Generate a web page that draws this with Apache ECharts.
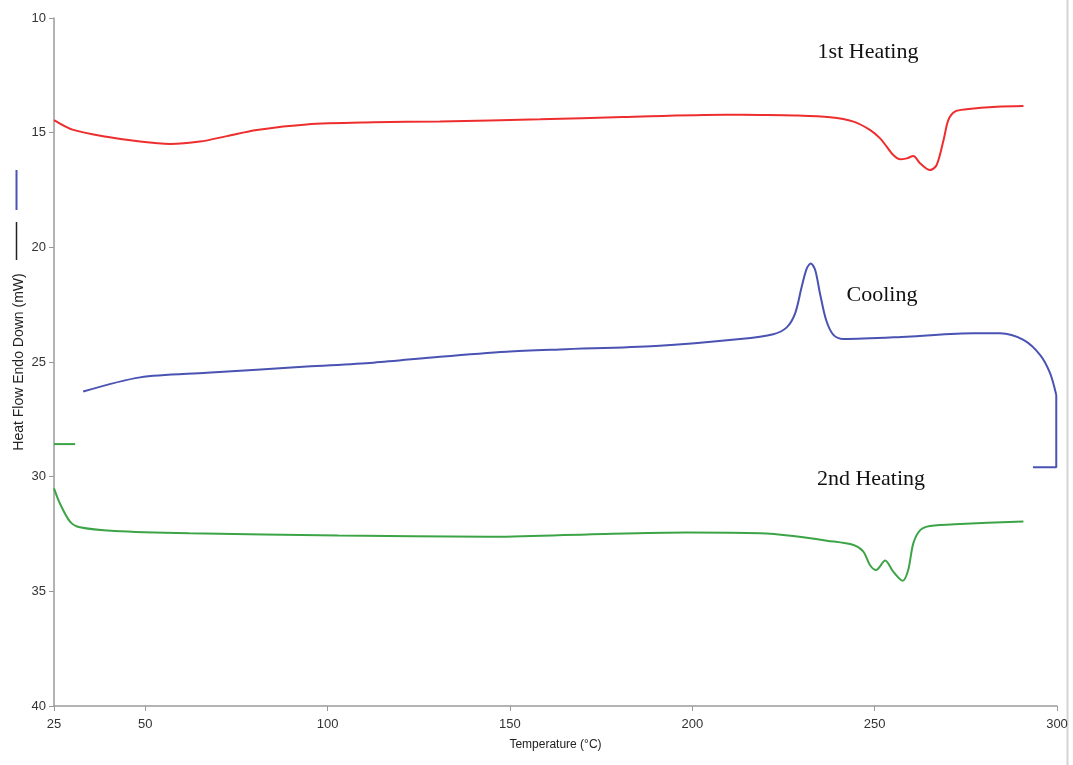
<!DOCTYPE html>
<html>
<head>
<meta charset="utf-8">
<script src="https://cdn.jsdelivr.net/npm/echarts@6/dist/echarts.min.js"></script>
<style>
  html, body { margin: 0; padding: 0; background: #fff; }
  #chart { width: 1073px; height: 765px; }
</style>
</head>
<body>
<div id="chart"></div>
<script>
// x tick labels
const xTicks = [25, 50, 100, 150, 200, 250, 300];

// 1st heating (red)
const heat1Temp = [25, 30.3, 39.4, 48.6, 56.8, 65, 72.4, 80.6, 94.3, 112.6, 130.8, 158.3, 181, 209, 218.6, 228, 237.8, 244.2, 248.7, 251.5, 253.3, 255.1, 257, 258.8, 260.6, 262.5, 265.2, 267, 268.9, 270.2, 272, 275.2, 283.5, 290.8];
const heat1Flow = [14.45, 14.88, 15.18, 15.39, 15.49, 15.39, 15.15, 14.88, 14.64, 14.55, 14.51, 14.42, 14.32, 14.22, 14.23, 14.25, 14.33, 14.52, 14.88, 15.25, 15.61, 15.97, 16.16, 16.12, 16.02, 16.34, 16.63, 16.41, 15.32, 14.45, 14.08, 13.98, 13.87, 13.84];

// cooling (blue)
const coolTemp = [33.0, 48.6, 66.9, 94.3, 112.6, 130.8, 149.1, 163.7, 190, 213.1, 222.2, 225.9, 228.2, 230, 231.4, 232.5, 233.7, 235, 236.7, 238.7, 241.4, 258.8, 277.1, 284.4, 290.8, 295.4, 298.1, 299.8];
const coolFlow = [26.29, 25.67, 25.47, 25.20, 25.03, 24.77, 24.55, 24.45, 24.3, 24.0, 23.79, 23.49, 22.88, 21.72, 20.92, 20.70, 20.99, 22.0, 23.17, 23.82, 24.0, 23.90, 23.75, 23.75, 24.04, 24.70, 25.49, 26.44];
const coolEndTemp = [299.8, 299.8, 293.4];
const coolEndFlow = [26.44, 29.59, 29.59];

// 2nd heating (green)
const heat2Temp = [25, 26.6, 29.4, 32.1, 41.6, 62.1, 103, 143.9, 171.2, 198.5, 218.6, 227.7, 236.9, 244.2, 246.9, 248.7, 250.4, 252.9, 255.1, 257.7, 259.2, 260.6, 262.5, 265.2, 273.4, 290.8];
const heat2Flow = [30.51, 31.16, 31.96, 32.21, 32.37, 32.47, 32.57, 32.62, 32.52, 32.44, 32.47, 32.59, 32.79, 32.98, 33.27, 33.85, 34.07, 33.66, 34.14, 34.54, 34.07, 32.91, 32.33, 32.15, 32.06, 31.96];
const heat2StartTemp = [25, 30.8];
const heat2StartFlow = [28.58, 28.58];

const RED = "#ee2e2e";
const BLUE = "#4a52b2";
const GREEN = "#3ca447";

const zip = (a, b) => a.map((v, i) => [v, b[i]]);

const chart = echarts.init(document.getElementById("chart"));

const lineSeries = (data, color, smooth) => ({
  type: "line",
  data: data,
  showSymbol: false,
  smooth: smooth,
  lineStyle: { color: color, width: 2 },
  itemStyle: { color: color },
  silent: true,
  z: 3
});

chart.setOption({
  animation: false,
  backgroundColor: "#fff",
  grid: { left: 54, right: 16, top: 18, bottom: 59, outerBoundsMode: "none" },
  xAxis: {
    type: "value",
    min: 25,
    max: 300,
    name: "Temperature (°C)",
    nameLocation: "middle",
    nameGap: 33,
    nameTextStyle: { color: "#222", fontSize: 12, fontFamily: "Liberation Sans" },
    axisLine: { lineStyle: { color: "#9a9a9a", width: 1.5 } },
    axisTick: { customValues: xTicks, length: 5, lineStyle: { color: "#9a9a9a" } },
    axisLabel: {
      customValues: xTicks,
      color: "#333",
      fontSize: 13,
      fontFamily: "Liberation Sans",
      margin: 12
    },
    splitLine: { show: false }
  },
  yAxis: {
    type: "value",
    inverse: true,
    min: 10,
    max: 40,
    interval: 5,
    axisLine: { show: true, lineStyle: { color: "#9a9a9a", width: 1.5 } },
    axisTick: { show: true, length: 5, lineStyle: { color: "#9a9a9a" } },
    axisLabel: { color: "#333", fontSize: 13, fontFamily: "Liberation Sans", margin: 8 },
    splitLine: { show: false }
  },
  graphic: [
    {
      type: "text", x: 19, y: 362, rotation: Math.PI / 2,
      style: { text: "Heat Flow Endo Down (mW)", font: "14px 'Liberation Sans'", fill: "#222", align: "center", verticalAlign: "middle" }
    },
    { type: "line", shape: { x1: 16.5, y1: 170, x2: 16.5, y2: 210 }, style: { stroke: BLUE, lineWidth: 2 } },
    { type: "line", shape: { x1: 16.5, y1: 222, x2: 16.5, y2: 260 }, style: { stroke: "#222", lineWidth: 1.5 } },
    { type: "line", shape: { x1: 1067.5, y1: 0, x2: 1067.5, y2: 765 }, style: { stroke: "#d4d4d4", lineWidth: 2 } },
    { type: "text", x: 868, y: 52, style: { text: "1st Heating", font: "22px 'Liberation Serif'", fill: "#111", align: "center", verticalAlign: "middle" } },
    { type: "text", x: 882, y: 295, style: { text: "Cooling", font: "22px 'Liberation Serif'", fill: "#111", align: "center", verticalAlign: "middle" } },
    { type: "text", x: 871, y: 479, style: { text: "2nd Heating", font: "22px 'Liberation Serif'", fill: "#111", align: "center", verticalAlign: "middle" } }
  ],
  series: [
    lineSeries(zip(heat1Temp, heat1Flow), RED, 0.3),
    lineSeries(zip(coolTemp, coolFlow), BLUE, 0.3),
    lineSeries(zip(coolEndTemp, coolEndFlow), BLUE, false),
    lineSeries(zip(heat2Temp, heat2Flow), GREEN, 0.3),
    lineSeries(zip(heat2StartTemp, heat2StartFlow), GREEN, false)
  ]
});
</script>
</body>
</html>
